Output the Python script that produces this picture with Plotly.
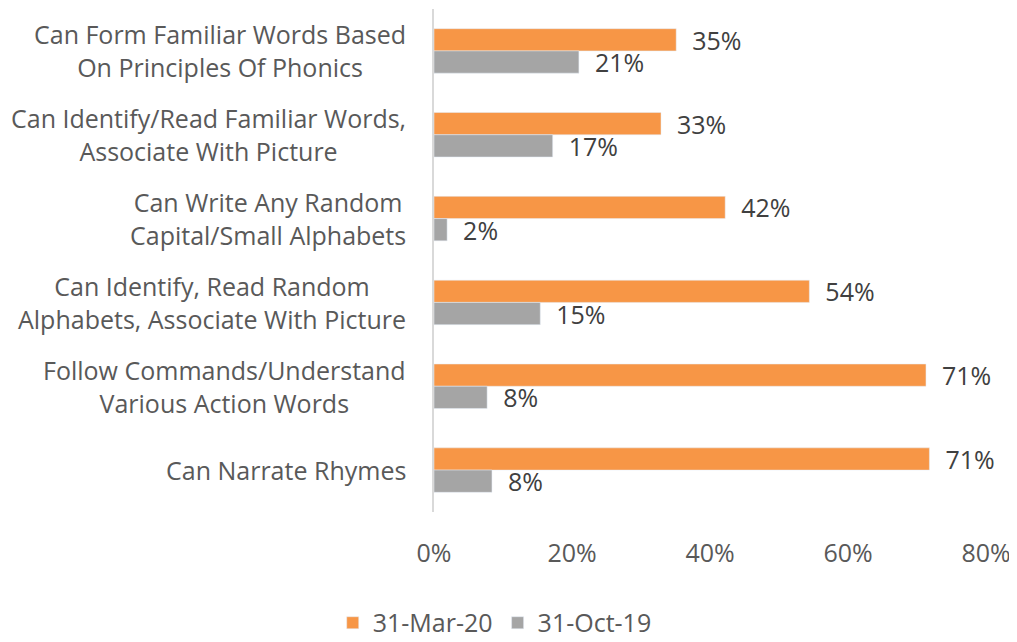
import plotly.graph_objects as go

# --- Data ---
categories = [
    "Can Form Familiar Words Based<br>On Principles Of Phonics",
    "Can Identify/Read Familiar Words,<br>Associate With Picture",
    "Can Write Any Random<br>Capital/Small Alphabets",
    "Can Identify, Read Random<br>Alphabets, Associate With Picture",
    "Follow Commands/Understand<br>Various Action Words",
    "Can Narrate Rhymes",
]
mar20 = [35.1, 32.9, 42.2, 54.4, 71.3, 71.8]
oct19 = [21.0, 17.2, 1.9, 15.4, 7.7, 8.4]
mar20_labels = ["35%", "33%", "42%", "54%", "71%", "71%"]
oct19_labels = ["21%", "17%", "2%", "15%", "8%", "8%"]
x_ticks = [0, 20, 40, 60, 80]
x_tick_labels = ["0%", "20%", "40%", "60%", "80%"]

ORANGE = "#F79646"
GREY = "#A5A5A5"
TEXT = "#595959"
FONT = "Open Sans"
FS = 25

fig = go.Figure()
fig.add_trace(go.Bar(
    y=categories, x=mar20, name="31-Mar-20", orientation="h",
    marker_color=ORANGE, text=mar20_labels, textposition="outside",
    texttemplate="\u00a0\u00a0%{text}", constraintext="none",
    textfont=dict(size=FS, color="#404040"), cliponaxis=False,
))
fig.add_trace(go.Bar(
    y=categories, x=oct19, name="31-Oct-19", orientation="h",
    marker_color=GREY, text=oct19_labels, textposition="outside",
    texttemplate="\u00a0\u00a0%{text}", constraintext="none",
    textfont=dict(size=FS, color="#404040"), cliponaxis=False,
))

# category labels as annotations so the two lines are centred on each other
for cat in categories:
    fig.add_annotation(
        x=0, xref="paper", y=cat, yref="y", text=cat, showarrow=False,
        xanchor="right", yanchor="middle", align="center", xshift=-26,
        font=dict(size=FS, color=TEXT, family=FONT),
    )

# page body has an 8px margin, so the figure is drawn 8px in from the corner
fig.update_layout(
    width=1009, height=634,
    margin=dict(l=426, r=31, t=1, b=130, autoexpand=False),
    barmode="group", bargap=0.47, bargroupgap=0,
    plot_bgcolor="white", paper_bgcolor="white",
    font=dict(family=FONT, size=FS, color=TEXT),
    showlegend=True,
    legend=dict(
        orientation="h", x=0.11, xanchor="center",
        yref="container", y=0.03, yanchor="middle",
        font=dict(size=FS, color=TEXT), traceorder="normal",
    ),
    xaxis=dict(
        range=[0, 80], tickvals=x_ticks, ticktext=x_tick_labels,
        showgrid=False, zeroline=False, showline=False,
        ticklabelstandoff=24, tickfont=dict(size=FS, color=TEXT),
    ),
    yaxis=dict(
        autorange="reversed", showticklabels=False, showgrid=False,
        showline=True, linecolor="#D9D9D9", linewidth=1.5, zeroline=False,
    ),
)

fig.write_html("out.html")
